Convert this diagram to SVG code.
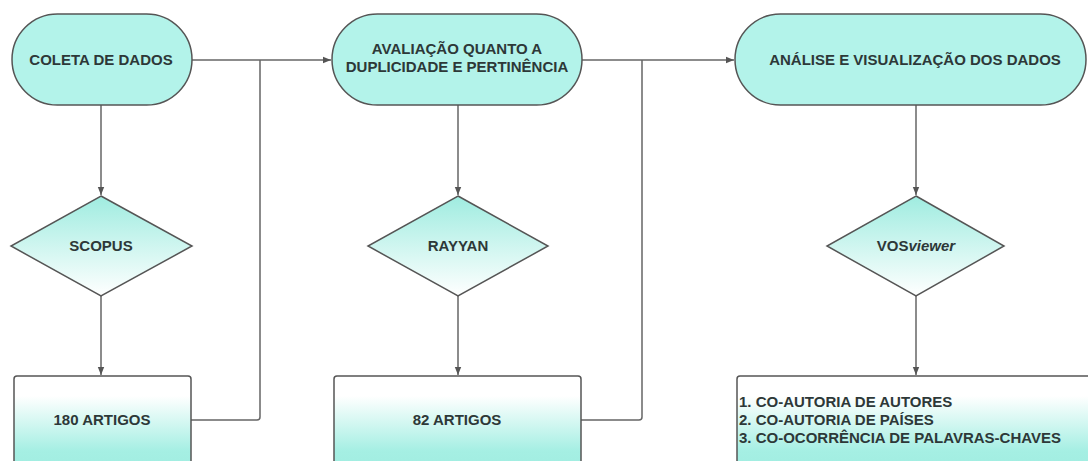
<svg xmlns="http://www.w3.org/2000/svg" width="1088" height="461" viewBox="0 0 1088 461">
<defs>
<linearGradient id="gDia" x1="0" y1="0" x2="0" y2="1">
<stop offset="0" stop-color="#9fece0"/>
<stop offset="1" stop-color="#ffffff"/>
</linearGradient>
<linearGradient id="gBox" x1="0" y1="0" x2="0" y2="1">
<stop offset="0" stop-color="#ffffff"/>
<stop offset="0.2" stop-color="#ffffff"/>
<stop offset="0.75" stop-color="#a5efe3"/>
<stop offset="1" stop-color="#9fece0"/>
</linearGradient>
<marker id="arr" viewBox="0 0 10 10" refX="10" refY="5" markerWidth="8" markerHeight="8" markerUnits="userSpaceOnUse" orient="auto">
<path d="M0,1 L10,5 L0,9 Z" fill="#555"/>
</marker>
<style>
.stad{fill:#b3f3ea;stroke:#555;stroke-width:1.5}
.dia{fill:url(#gDia);stroke:#555;stroke-width:1.5}
.box{fill:url(#gBox);stroke:#555;stroke-width:1.5}
.t{font-family:"Liberation Sans",Arial,sans-serif;font-weight:bold;font-size:15px;fill:#2d3838;text-anchor:middle}
.tl{font-family:"Liberation Sans",Arial,sans-serif;font-weight:bold;font-size:15px;fill:#2d3838}
.c{fill:none;stroke:#666;stroke-width:1.5}
</style>
</defs>
<rect width="1088" height="461" fill="#ffffff"/>
<g id="connectors">
<path class="c" d="M192,60 H331" marker-end="url(#arr)"/>
<path class="c" d="M191,420 H257 Q260,420 260,417 V60"/>
<path class="c" d="M582,60 H734" marker-end="url(#arr)"/>
<path class="c" d="M581,420 H639 Q642,420 642,417 V60"/>
<path class="c" d="M101,105 V195" marker-end="url(#arr)"/>
<path class="c" d="M101,296 V375" marker-end="url(#arr)"/>
<path class="c" d="M458,105 V195" marker-end="url(#arr)"/>
<path class="c" d="M458,296 V375" marker-end="url(#arr)"/>
<path class="c" d="M916,105 V195" marker-end="url(#arr)"/>
<path class="c" d="M916,296 V375" marker-end="url(#arr)"/>
</g>
<g id="coleta">
<rect class="stad" x="12" y="14" width="180" height="91" rx="45.5"/>
<text class="t" x="101" y="65">COLETA DE DADOS</text>
</g>
<g id="avaliacao">
<rect class="stad" x="332" y="14" width="250" height="91" rx="45.5"/>
<text class="t" x="457" y="54">AVALIAÇÃO QUANTO A</text>
<text class="t" x="457" y="72">DUPLICIDADE E PERTINÊNCIA</text>
</g>
<g id="analise">
<rect class="stad" x="735" y="14" width="351" height="91" rx="45.5"/>
<text class="t" x="915" y="65">ANÁLISE E VISUALIZAÇÃO DOS DADOS</text>
</g>
<g id="scopus">
<polygon class="dia" points="101,196 192,246 101,296 11,246"/>
<text class="t" x="101" y="251">SCOPUS</text>
</g>
<g id="rayyan">
<polygon class="dia" points="458,196 548,246 458,296 368,246"/>
<text class="t" x="458" y="251">RAYYAN</text>
</g>
<g id="vosviewer">
<polygon class="dia" points="916,196 1004,246 916,296 827,246"/>
<text class="t" x="916" y="251">VOS<tspan font-style="italic">viewer</tspan></text>
</g>
<g id="artigos180">
<rect class="box" x="14" y="376" width="177" height="100" rx="3"/>
<text class="t" x="102" y="425">180 ARTIGOS</text>
</g>
<g id="artigos82">
<rect class="box" x="334" y="376" width="247" height="100" rx="3"/>
<text class="t" x="457" y="425">82 ARTIGOS</text>
</g>
<g id="resultados">
<rect class="box" x="737" y="376" width="360" height="100" rx="3"/>
<text class="tl" x="739" y="407">1. CO-AUTORIA DE AUTORES</text>
<text class="tl" x="739" y="425">2. CO-AUTORIA DE PAÍSES</text>
<text class="tl" x="739" y="443">3. CO-OCORRÊNCIA DE PALAVRAS-CHAVES</text>
</g>
</svg>
